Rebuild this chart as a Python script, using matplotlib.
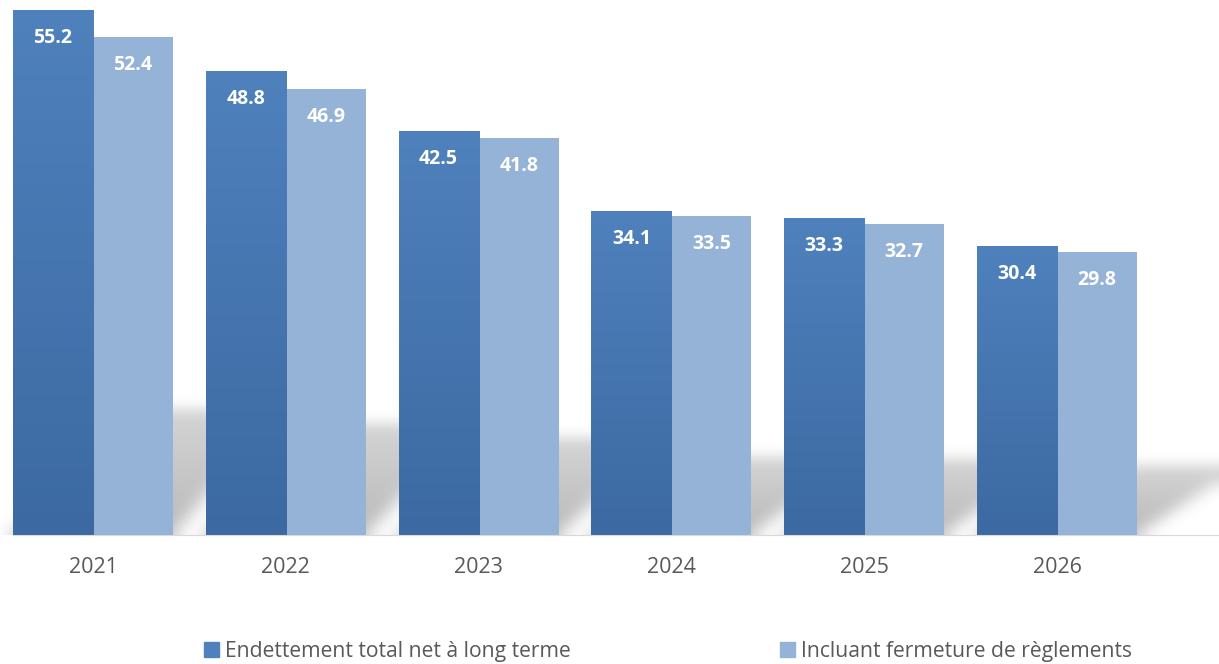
"""Endettement total net a long terme, 2021-2026"""

import numpy as np
import matplotlib
matplotlib.use("Agg")
import matplotlib.pyplot as plt
from matplotlib.colors import LinearSegmentedColormap
from matplotlib.patches import Patch

years = ["2021", "2022", "2023", "2024", "2025", "2026"]
endettement = [55.2, 48.8, 42.5, 34.1, 33.3, 30.4]
incluant = [52.4, 46.9, 41.8, 33.5, 32.7, 29.8]
series_names = ["Endettement total net à long terme",
                "Incluant fermeture de règlements"]

dark_top = "#4F81BD"
dark_bottom = "#3C69A1"
light_col = "#95B3D7"
text_grey = "#595959"

plt.rcParams["font.family"] = ["Open Sans", "DejaVu Sans"]


def box_blur(img, r, axis):
    """Simple box blur along one axis using cumulative sums"""
    pad = [(0, 0), (0, 0)]
    pad[axis] = (r + 1, r)
    p = np.pad(img, pad, mode="edge")
    c = np.cumsum(p, axis=axis)
    if axis == 0:
        return (c[2 * r + 1:, :] - c[:-2 * r - 1, :]) / (2 * r + 1)
    return (c[:, 2 * r + 1:] - c[:, :-2 * r - 1]) / (2 * r + 1)


fig = plt.figure(figsize=(12.19, 6.64), dpi=100)
ax = fig.add_axes([0, 129 / 664, 1, 535 / 664])

x = np.arange(len(years))
w = 0.415
xlim = (-0.482, 5.84)
ylim = (0, 56.26)

# floor shadow behind each group
sx = np.linspace(xlim[0], xlim[1], 1219)
sy = np.linspace(0, 18, 180)
gx, gy = np.meshgrid(sx, sy)
mask = np.zeros_like(gx)
slope = 0.24
shift = 0.55
for i, h in enumerate(endettement):
    top = slope * h
    frac = gy / top
    left = x[i] - w + shift * frac
    right = x[i] + w + shift * frac
    inside = (gy <= top) & (gx >= left) & (gx <= right)
    mask[inside] = np.maximum(mask[inside], 1 - 0.4 * frac[inside])
for _ in range(3):
    mask = box_blur(mask, 6, 0)
    mask = box_blur(mask, 9, 1)
rgba = np.zeros(mask.shape + (4,))
rgba[..., :3] = 0.5
rgba[..., 3] = np.clip(mask, 0, 1) * 0.55
ax.imshow(rgba, extent=[sx[0], sx[-1], sy[0], sy[-1]], origin="lower",
          aspect="auto", zorder=1, interpolation="bilinear")

# dark bars with vertical gradient
cmap = LinearSegmentedColormap.from_list("dk", [dark_bottom, dark_top])
grad = np.linspace(0, 1, 256).reshape(-1, 1)
bars_dark = ax.bar(x - w / 2, endettement, w, color=dark_top, zorder=2)
for rect in bars_dark:
    im = ax.imshow(grad, cmap=cmap, origin="lower", aspect="auto",
                   extent=[rect.get_x(), rect.get_x() + rect.get_width(),
                           0, rect.get_height()], zorder=2.5)
    im.set_clip_path(rect)
bars_light = ax.bar(x + w / 2, incluant, w, color=light_col, zorder=2)

for xi, v in zip(x, endettement):
    ax.text(xi - w / 2, v - 2.95, f"{v:.1f}", ha="center", va="center",
            color="white", fontsize=14, fontweight="bold", zorder=4)
for xi, v in zip(x, incluant):
    ax.text(xi + w / 2, v - 2.95, f"{v:.1f}", ha="center", va="center",
            color="white", fontsize=14, fontweight="bold", zorder=4)

ax.set_xlim(*xlim)
ax.set_ylim(*ylim)
ax.set_xticks(x)
ax.set_xticklabels(years, fontsize=15.5, color=text_grey)
ax.tick_params(axis="x", length=0, pad=16)
ax.set_yticks([])
for side in ["top", "right", "left"]:
    ax.spines[side].set_visible(False)
ax.spines["bottom"].set_color("#D9D9D9")
ax.spines["bottom"].set_bounds(x[0] - w, xlim[1])

handles = [Patch(color=dark_top), Patch(color=light_col)]
fig.legend(handles, series_names, loc="center", ncol=2,
           bbox_to_anchor=(0.548, 1 - 651 / 664), frameon=False,
           fontsize=15.2, labelcolor=text_grey, handlelength=0.7,
           handleheight=0.7, handletextpad=0.3, columnspacing=9.9)

fig.savefig("out.png", dpi=100)
